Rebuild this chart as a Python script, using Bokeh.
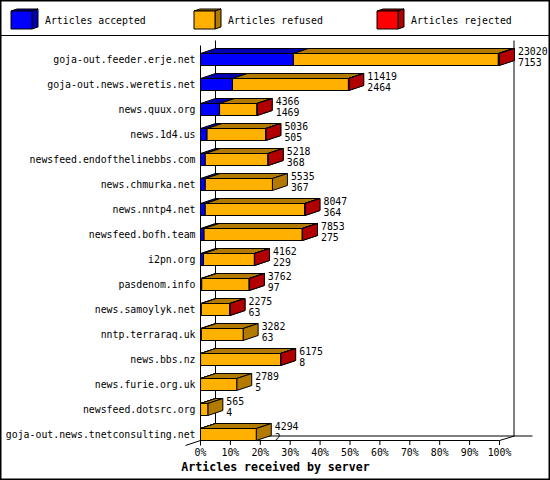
from bokeh.plotting import figure
from bokeh.embed import file_html
from bokeh.resources import INLINE
from bokeh.models import Range1d, FixedTicker, PrintfTickFormatter
from bokeh.core.properties import value

servers = ["goja-out.feeder.erje.net", "goja-out.news.weretis.net", "news.quux.org",
           "news.1d4.us", "newsfeed.endofthelinebbs.com", "news.chmurka.net",
           "news.nntp4.net", "newsfeed.bofh.team", "i2pn.org", "pasdenom.info",
           "news.samoylyk.net", "nntp.terraraq.uk", "news.bbs.nz", "news.furie.org.uk",
           "newsfeed.dotsrc.org", "goja-out.news.tnetconsulting.net"]
totals = [23020, 11419, 4366, 5036, 5218, 5535, 8047, 7853, 4162, 3762, 2275, 3282, 6175, 2789, 565, 4294]
accepted = [7153, 2464, 1469, 505, 368, 367, 364, 275, 229, 97, 63, 63, 8, 5, 4, 2]
rejected = [90, 30, 12, 15, 20, 0, 25, 20, 12, 10, 8, 0, 15, 0, 0, 0]
xticks = [0, 10, 20, 30, 40, 50, 60, 70, 80, 90, 100]
legend_names = ["Articles accepted", "Articles refused", "Articles rejected"]
x_title = "Articles received by server"

W, H = 550, 480
FONT = value("DejaVu Sans Mono")
FS = "9.85px"

PCT = 2.99      # px per percent
ROW = 25.0      # px per row
X0, Y0 = 200.0, 59.0


def rx(px):
    return (px - X0) / PCT


def ry(py):
    return (py - Y0) / ROW


DX, DY = 15 / PCT, 5 / ROW
HALF = 6 / ROW

p = figure(width=W, height=H, output_backend="svg", toolbar_location=None,
           x_range=Range1d(rx(0), rx(W)), y_range=Range1d(ry(H), ry(0)),
           min_border=0)
p.grid.visible = False
p.outline_line_color = "black"
p.outline_line_width = 2
p.background_fill_color = "white"

xa = p.xaxis[0]
xa.ticker = FixedTicker(ticks=xticks)
xa.formatter = PrintfTickFormatter(format="%d%%")
xa.axis_line_color = None
xa.major_tick_line_color = None
xa.minor_tick_line_color = None
xa.major_label_standoff = -40
xa.major_label_text_font = "DejaVu Sans Mono"
xa.major_label_text_font_size = FS
xa.major_label_text_color = "black"
xa.axis_label = x_title
xa.axis_label_standoff = -1
xa.axis_label_text_font = "DejaVu Sans Mono"
xa.axis_label_text_font_size = "11.6px"
xa.axis_label_text_font_style = "bold"
xa.axis_label_text_color = "black"

ya = p.yaxis[0]
ya.ticker = FixedTicker(ticks=list(range(len(servers))))
ya.major_label_overrides = {i: s for i, s in enumerate(servers)}
ya.axis_line_color = None
ya.major_tick_line_color = None
ya.minor_tick_line_color = None
ya.major_label_standoff = -201
ya.major_label_text_font = "DejaVu Sans Mono"
ya.major_label_text_font_size = FS
ya.major_label_text_color = "black"

# chart walls and floor
wall_x0 = [rx(200), rx(215), rx(513.5), rx(215), rx(200), rx(499), rx(185)]
wall_y0 = [ry(45), ry(40), ry(40), ry(435.5), ry(440), ry(440), ry(445)]
wall_x1 = [rx(200), rx(215), rx(513.5), rx(532), rx(499), rx(514), rx(200)]
wall_y1 = [ry(445), ry(435), ry(435.5), ry(435.5), ry(440), ry(435.5), ry(440)]
p.segment(wall_x0, wall_y0, wall_x1, wall_y1, line_color="black", line_width=1)

# x tick marks
p.segment(xticks, [ry(440)] * len(xticks), xticks, [ry(444.5)] * len(xticks),
          line_color="black", line_width=1)


def pct(v):
    return v / max(totals) * 100


colors = {"accepted": ("#0000ff", "#0000b2", "#0000b2"),
          "refused": ("#ffb000", "#b27b00", "#b27b00"),
          "rejected": ("#ff0000", "#b20000", "#b20000")}

refused = [t - a - r for t, a, r in zip(totals, accepted, rejected)]
start = [0.0] * len(totals)
for name, series in (("accepted", accepted), ("refused", refused), ("rejected", rejected)):
    front, top, side = colors[name]
    rows = [i for i, v in enumerate(series) if v > 0]
    l = [pct(start[i]) for i in rows]
    r = [pct(start[i] + series[i]) for i in rows]
    c = [float(i) for i in rows]
    p.patches([[a, b, b + DX, a + DX] for a, b in zip(l, r)],
              [[y - HALF, y - HALF, y - HALF - DY, y - HALF - DY] for y in c],
              fill_color=top, line_color="black", line_width=1)
    p.patches([[b, b + DX, b + DX, b] for b in r],
              [[y - HALF, y - HALF - DY, y + HALF - DY, y + HALF] for y in c],
              fill_color=side, line_color="black", line_width=1)
    p.quad(left=l, right=r, top=[y - HALF for y in c], bottom=[y + HALF for y in c],
           fill_color=front, line_color="black", line_width=1)
    for i in rows:
        start[i] += series[i]

# value labels at the end of each bar
lx = [pct(t) + DX + 3.5 / PCT for t in totals]
p.text(lx, [i - 9 / ROW for i in range(len(totals))], text=[str(t) for t in totals],
       text_font=FONT, text_font_size=FS, text_baseline="middle", text_color="black")
p.text(lx, [i + 2.5 / ROW for i in range(len(totals))], text=[str(a) for a in accepted],
       text_font=FONT, text_font_size=FS, text_baseline="middle", text_color="black")

# legend separator
p.line([rx(0), rx(W)], [ry(35), ry(35)], line_color="black", line_width=1)

# legend
for name, text, bx in zip(("accepted", "refused", "rejected"), legend_names, (10.5, 193.5, 376.5)):
    front, top, side = colors[name]
    x1, y0, y1 = bx + 21, 10.5, 28.5
    for xs, ys, fill in (([bx, x1, x1 + 6, bx + 6], [y0, y0, y0 - 2, y0 - 2], top),
                         ([x1, x1 + 6, x1 + 6, x1], [y0, y0 - 2, y1 - 2, y1], side),
                         ([bx, x1, x1, bx], [y0, y0, y1, y1], front)):
        p.patch([rx(x) for x in xs], [ry(y) for y in ys], fill_color=fill,
                line_color="black", line_width=1)
    p.text([rx(bx + 34)], [ry(20)], text=[text], text_font=FONT, text_font_size=FS,
           text_baseline="middle", text_color="black")

open("out.html", "w").write(file_html(p, INLINE))
